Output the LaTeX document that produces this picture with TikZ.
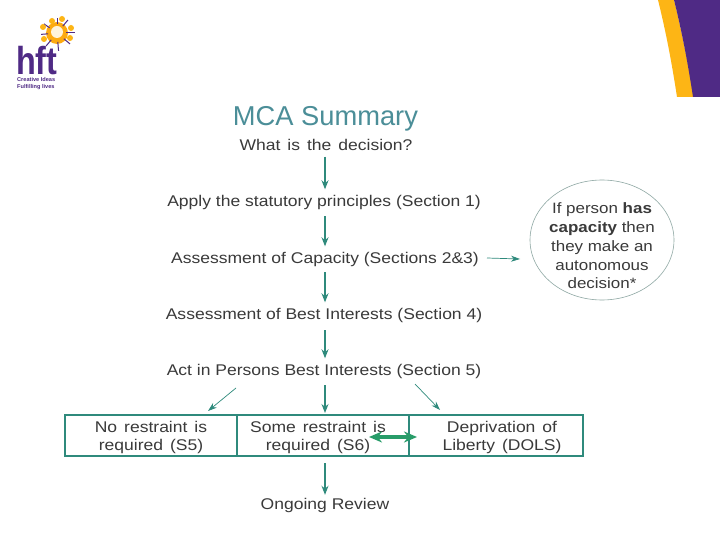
\documentclass[tikz,border=0pt]{standalone}
\usepackage{fontspec}
\setmainfont{Liberation Sans}
\newfontfamily\widef[FakeStretch=1.13]{Liberation Sans}
\newfontfamily\narrowf[FakeStretch=0.83]{Liberation Sans}
\newcommand\widesp{\spaceskip=7pt\relax}
\usetikzlibrary{arrows.meta,shapes.geometric}
\definecolor{teal1}{HTML}{2F8A7C}
\definecolor{titlec}{HTML}{4B8E98}
\definecolor{txt}{HTML}{3A3A3A}
\definecolor{hftp}{HTML}{4F2A85}
\definecolor{hfty}{HTML}{FDB515}
\definecolor{ringc}{HTML}{8FA8A4}
\tikzset{
  lbl/.style={font=\widef\fontsize{15.5}{18}\selectfont,text=txt,inner sep=0pt,outer sep=3pt},
  arr/.style={draw=teal1,line width=1.1pt,-{Stealth[length=9pt,width=7pt]}},
  gap arr/.style={arr,shorten >=2.5pt},
  thin arr/.style={draw=teal1,line width=0.7pt,-{Stealth[length=9pt,width=6pt]}},
  cell/.style={draw=teal1,line width=1.5pt,minimum height=41pt,inner sep=0pt},
  celltxt/.style={inner sep=0pt,align=center,font=\widef\fontsize{15.5}{18}\selectfont\widesp,text=txt},
  dot/.style={circle,fill=hfty,inner sep=0pt,minimum size=6pt},
}
\begin{document}
\begin{tikzpicture}[x=1pt,y=-1pt]
\useasboundingbox[fill=white] (0,0) rectangle (720,540);
% banner
\fill[hfty] (658,0) .. controls (666,32) and (672,64) .. (677,97) -- (694,97) .. controls (688,64) and (682,32) .. (674,0) -- cycle;
\fill[hftp] (674,0) .. controls (682,32) and (688,64) .. (693,97) -- (720,97) -- (720,0) -- cycle;
% logo sun
\fill[hfty!80!orange] (57,33) circle (11);
\fill[white!85!hfty] (57,32) circle (6);
\foreach \a/\r in {0/18,40/17,85/18,130/17,175/16,215/16,270/15,310/17}
  \draw[hftp,line width=1pt] (57,33) ++(\a:9) -- ++(\a:\r-9);
\foreach \x/\y in {43/27,52/21,62/19,71/28,70/38,44/39}
  \node[dot] at (\x,\y) {};
% logo text
\node[font=\narrowf\bfseries\fontsize{39}{39}\selectfont,text=hftp,inner sep=0pt,anchor=base west] (hft) at (16,75) {hft};
\node[font=\bfseries\fontsize{5.6}{7}\selectfont,text=hftp,inner sep=0pt,anchor=north west,align=left] (tag) at (17,77.5) {Creative Ideas\\Fulfilling lives};
% title
\node[font=\fontsize{27.3}{30}\selectfont,text=titlec,inner sep=0pt] (title) at (325.5,119) {MCA Summary};
% flow
\node[lbl,font=\widef\fontsize{15.5}{18}\selectfont\widesp] (q) at (326,145) {What is the decision?};
\node[lbl] (p) at (324,202) {Apply the statutory principles (Section 1)};
\node[lbl] (c) at (325,259) {Assessment of Capacity (Sections 2\&3)};
\node[lbl] (b) at (324,315) {Assessment of Best Interests (Section 4)};
\node[lbl] (a) at (324,371) {Act in Persons Best Interests (Section 5)};
\node[cell,minimum width=172pt] (c1) at (151,435.5) {};
\node[cell,minimum width=172pt] (c2) at (323,435.5) {};
\node[cell,minimum width=174pt] (c3) at (496,435.5) {};
\node[celltxt] (t1) at (151,437) {No restraint is\\required (S5)};
\node[celltxt] (t2) at (318,437) {Some restraint is\\required (S6)};
\node[celltxt] (t3) at (502,437) {Deprivation of\\Liberty (DOLS)};
\node[lbl] (r) at (325,505) {Ongoing Review};
\node[ellipse,draw=ringc,line width=0.6pt,minimum width=144pt,minimum height=120pt,inner sep=0pt] (d) at (602,240) {};
\node[inner sep=0pt,align=center,font=\widef\fontsize{15}{18.7}\selectfont,text=txt] (dt) at (602,246)
  {If person \textbf{has}\\\textbf{capacity} then\\they make an\\autonomous\\decision*};
% connectors
\coordinate (a1) at (236,388); \coordinate (e1) at (208,411);
\coordinate (a3) at (415,384); \coordinate (e3) at (440,410);
\coordinate (c2t) at (325,413); \coordinate (c2b) at (325,463);
\coordinate (cs) at (487,258); \coordinate (ce) at (520,259);
\coordinate (da) at (369,437); \coordinate (db) at (417,437);
\draw[gap arr] (q.south -| 325,0) ++(0,3) -- (p.north -| 325,0);
\draw[gap arr] (p.south -| 325,0) ++(0,4) -- (c.north -| 325,0);
\draw[gap arr] (c.south -| 325,0) ++(0,3) -- (b.north -| 325,0);
\draw[gap arr] (b.south -| 325,0) ++(0,5) -- (a.north -| 325,0);
\draw[arr] (a.south -| 325,0) ++(0,4) -- (c2t);
\draw[thin arr] (a1) -- (e1);
\draw[thin arr] (a3) -- (e3);
\draw[arr] (c2b) -- (r.north -| 325,0);
\draw[thin arr] (cs) -- (ce);
\draw[draw=teal1!85!green,line width=3.2pt,{Stealth[length=13pt,width=11pt]}-{Stealth[length=13pt,width=11pt]}] (da) -- (db);
\end{tikzpicture}
\end{document}
